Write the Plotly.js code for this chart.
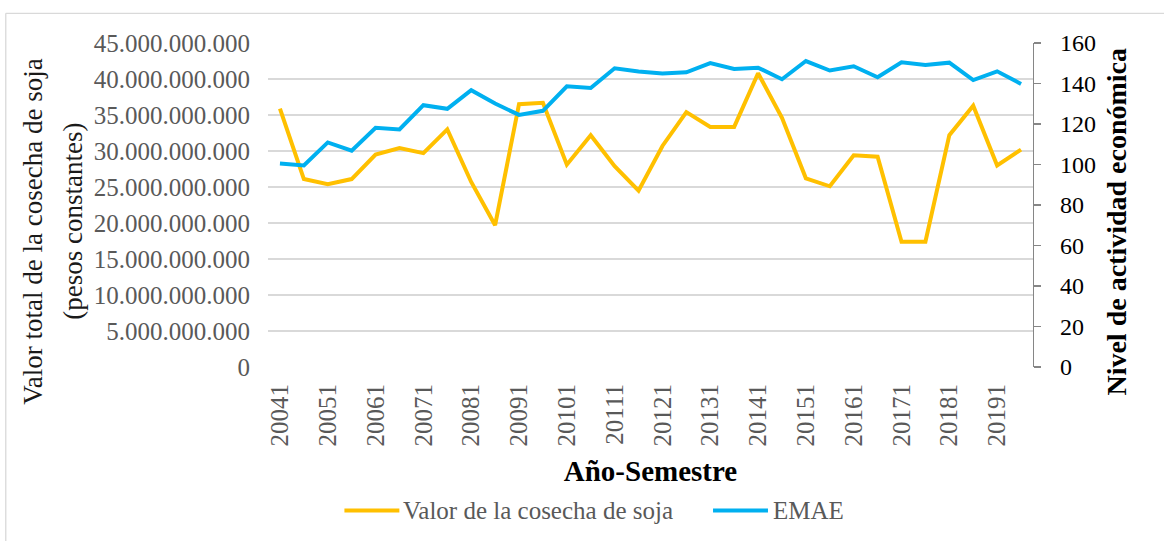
<!DOCTYPE html>
<html>
<head>
<meta charset="utf-8">
<script src="https://cdn.plot.ly/plotly-3.0.1.min.js"></script>
<style>html,body{margin:0;padding:0;background:#fff;}#chart{width:1164px;height:541px;}</style>
</head>
<body>
<div id="chart"></div>
<script>
// Categories: year + semester
const categories = ["20041","20042","20051","20052","20061","20062","20071","20072",
  "20081","20082","20091","20092","20101","20102","20111","20112",
  "20121","20122","20131","20132","20141","20142","20151","20152",
  "20161","20162","20171","20172","20181","20182","20191","20192"];
const tickLabels = ["20041","20051","20061","20071","20081","20091","20101","20111",
  "20121","20131","20141","20151","20161","20171","20181","20191"];
const seriesNames = ["Valor de la cosecha de soja", "EMAE"];
// Valor de la cosecha de soja (pesos constantes)
const soja = [35.9e9,26.1e9,25.4e9,26.1e9,29.5e9,30.4e9,29.7e9,33.0e9,
  25.7e9,19.7e9,36.5e9,36.7e9,28.1e9,32.2e9,27.9e9,24.5e9,
  30.7e9,35.4e9,33.35e9,33.35e9,40.8e9,34.6e9,26.2e9,25.1e9,
  29.4e9,29.2e9,17.4e9,17.4e9,32.2e9,36.3e9,28.0e9,30.2e9];
// EMAE
const emae = [100.5,99.5,110.9,106.8,118.1,117.3,129.3,127.5,
  136.7,130.1,124.5,126.5,138.6,137.8,147.5,145.9,
  144.9,145.5,150.1,147.2,147.8,142.1,151.1,146.4,
  148.5,143.1,150.5,149.2,150.3,141.7,146.0,139.8];

const FONT = "Liberation Serif, Times New Roman, serif";
const YELLOW = '#FFC000', BLUE = '#00B0F0';
const L = 267.5, R = 1033.3, T = 42.7, B = 367.3;
const W = R - L, H = B - T;
const px = x => (x - L) / W;
const py = y => (B - y) / H;
const LEGY = 511;

const traces = [
  {x: categories, y: soja, type: 'scatter', mode: 'lines', name: seriesNames[0],
   line: {color: YELLOW, width: 4}, yaxis: 'y'},
  {x: categories, y: emae, type: 'scatter', mode: 'lines', name: seriesNames[1],
   line: {color: BLUE, width: 4}, yaxis: 'y2'}
];

const legendAnn = (text, x) => ({text: text, xref: 'paper', yref: 'paper', x: px(x), y: py(LEGY),
  xanchor: 'left', yanchor: 'middle', showarrow: false,
  font: {family: FONT, size: 25, color: '#595959'}});
const legendKey = (color, x0, x1) => ({type: 'line', xref: 'paper', yref: 'paper',
  x0: px(x0), x1: px(x1), y0: py(LEGY), y1: py(LEGY), line: {color: color, width: 4}});

const layout = {
  width: 1164, height: 541,
  margin: {l: L, r: 1164 - R, t: T, b: 541 - B, pad: 0},
  paper_bgcolor: '#fff', plot_bgcolor: '#fff',
  separators: ',.',
  font: {family: FONT, size: 24, color: '#595959'},
  showlegend: false,
  xaxis: {type: 'category', range: [-0.5, 31.5], showgrid: false, zeroline: false, automargin: false,
    showline: false, ticks: '', tickangle: -90, tickmode: 'array',
    tickvals: tickLabels, ticktext: tickLabels, ticklabelstandoff: 11,
    tickfont: {family: FONT, size: 25, color: '#595959'},
    title: {text: '<b>Año-Semestre</b>', font: {family: FONT, size: 29, color: '#000'}, standoff: 15}},
  yaxis: {range: [0, 45e9], dtick: 5e9, tick0: 0, tickformat: ',.0f', showgrid: true, automargin: false,
    gridcolor: '#D9D9D9', gridwidth: 1.3, zeroline: false, showline: false, ticks: '',
    ticklabelstandoff: 17, tickfont: {family: FONT, size: 25, color: '#595959'}},
  yaxis2: {range: [0, 160], dtick: 20, tick0: 0, overlaying: 'y', side: 'right', showgrid: false,
    automargin: false,
    zeroline: false, showline: true, linecolor: '#868686', linewidth: 1.3, ticks: 'outside',
    ticklen: 7, tickcolor: '#868686', tickwidth: 1.3, ticklabelstandoff: 14,
    tickfont: {family: FONT, size: 24, color: '#000'}},
  annotations: [
    {text: 'Valor total de la cosecha de soja', textangle: -90,
     xref: 'paper', yref: 'paper', x: px(32), y: py(232), xanchor: 'center', yanchor: 'middle',
     showarrow: false, font: {family: FONT, size: 27, color: '#1a1a1a'}},
    {text: '(pesos constantes)', textangle: -90,
     xref: 'paper', yref: 'paper', x: px(72), y: py(221), xanchor: 'center', yanchor: 'middle',
     showarrow: false, font: {family: FONT, size: 27, color: '#1a1a1a'}},
    {text: '<b>Nivel de actividad económica</b>', textangle: -90,
     xref: 'paper', yref: 'paper', x: px(1117), y: py(222), xanchor: 'center', yanchor: 'middle',
     showarrow: false, font: {family: FONT, size: 28, color: '#000'}},
    legendAnn(seriesNames[0], 401),
    legendAnn(seriesNames[1], 771)
  ],
  shapes: [
    {type: 'line', xref: 'paper', yref: 'paper', x0: px(5), x1: px(1170), y0: py(13), y1: py(13),
     line: {color: '#D9D9D9', width: 1.3}},
    {type: 'line', xref: 'paper', yref: 'paper', x0: px(5), x1: px(5), y0: py(13), y1: py(560),
     line: {color: '#D9D9D9', width: 1.3}},
    legendKey(YELLOW, 344, 399),
    legendKey(BLUE, 713, 768)
  ]
};

Plotly.newPlot('chart', traces, layout, {displayModeBar: false, staticPlot: true});
</script>
</body>
</html>
